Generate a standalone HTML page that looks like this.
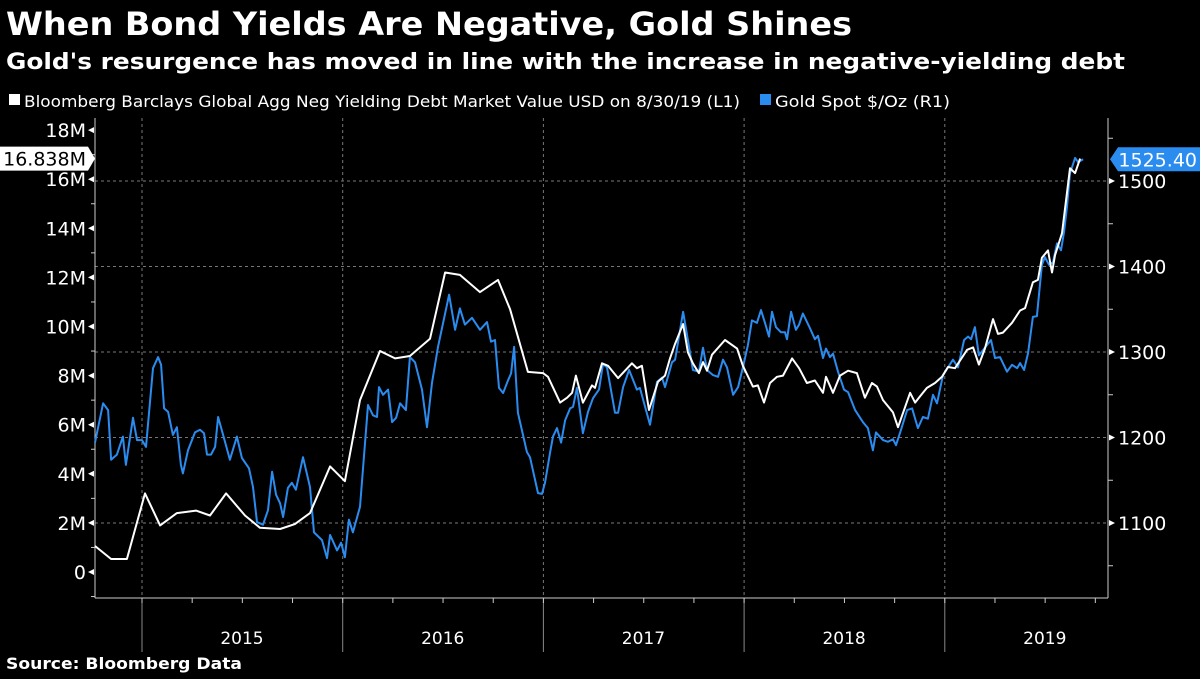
<!DOCTYPE html>
<html><head><meta charset="utf-8"><style>
html,body{margin:0;padding:0;background:#000;}
body{width:1200px;height:675px;overflow:hidden;font-family:"DejaVu Sans","Liberation Sans",sans-serif;color:#fff;}
svg text{font-family:"DejaVu Sans","Liberation Sans",sans-serif;}
</style></head><body>
<svg id="chart" width="1200" height="675" viewBox="0 0 1200 675">
<text x="6" y="35" font-size="32" font-weight="bold" fill="#fff" textLength="846" lengthAdjust="spacingAndGlyphs">When Bond Yields Are Negative, Gold Shines</text>
<text x="6" y="69" font-size="22" font-weight="bold" fill="#fff" textLength="1119" lengthAdjust="spacingAndGlyphs">Gold's resurgence has moved in line with the increase in negative-yielding debt</text>
<g>
<rect x="9" y="94" width="11" height="11" fill="#fff"/>
<text x="24" y="107" font-size="16" fill="#fff" textLength="716" lengthAdjust="spacingAndGlyphs">Bloomberg Barclays Global Agg Neg Yielding Debt Market Value USD  on 8/30/19 (L1)</text>
<rect x="760" y="94" width="11" height="11" fill="#2b8cf0"/>
<text x="775" y="107" font-size="16" fill="#fff" textLength="175" lengthAdjust="spacingAndGlyphs">Gold Spot $/Oz  (R1)</text>
</g>
<g id="grid"></g>
<g id="axes"></g>
<g id="series"></g>
<g id="flags"></g>
<text x="6" y="669" font-size="16" font-weight="bold" fill="#fff" textLength="236" lengthAdjust="spacingAndGlyphs">Source: Bloomberg Data</text>
</svg>
<script>
const years = [2015, 2016, 2017, 2018, 2019];
const leftTicks = [0, 2, 4, 6, 8, 10, 12, 14, 16, 18];
const rightTicks = [1100, 1200, 1300, 1400, 1500];
const debtDates = [2014.766,2014.846,2014.925,2015.015,2015.090,2015.174,2015.269,2015.339,2015.419,2015.513,2015.588,2015.688,2015.762,2015.837,2015.937,2016.011,2016.086,2016.186,2016.261,2016.335,2016.435,2016.510,2016.584,2016.684,2016.774,2016.834,2016.923,2016.998,2017.023,2017.083,2017.118,2017.143,2017.162,2017.197,2017.242,2017.257,2017.292,2017.322,2017.372,2017.441,2017.466,2017.491,2017.526,2017.571,2017.606,2017.631,2017.656,2017.696,2017.720,2017.745,2017.775,2017.795,2017.815,2017.840,2017.905,2017.965,2017.994,2018.044,2018.069,2018.099,2018.129,2018.164,2018.194,2018.239,2018.274,2018.313,2018.353,2018.393,2018.408,2018.443,2018.478,2018.518,2018.562,2018.602,2018.637,2018.662,2018.692,2018.742,2018.767,2018.827,2018.852,2018.876,2018.911,2018.951,2018.986,2019.016,2019.051,2019.111,2019.141,2019.170,2019.200,2019.240,2019.265,2019.290,2019.335,2019.375,2019.400,2019.439,2019.464,2019.484,2019.514,2019.534,2019.549,2019.584,2019.624,2019.649,2019.674];
const debtValues = [1.06,0.53,0.53,3.2,1.9,2.4,2.5,2.3,3.2,2.3,1.8,1.75,1.95,2.4,4.3,3.7,7.0,9.0,8.7,8.8,9.5,12.2,12.1,11.4,11.9,10.7,8.15,8.1,7.95,6.9,7.1,7.3,8.0,6.9,7.6,7.5,8.5,8.4,7.9,8.5,8.3,8.4,6.6,7.75,8.0,8.7,9.3,10.1,8.95,8.5,8.1,8.55,8.2,8.85,9.45,9.1,8.4,7.55,7.6,6.9,7.7,7.95,8.0,8.7,8.3,7.7,7.8,7.3,7.95,7.3,8.0,8.2,8.1,7.1,7.7,7.55,7.0,6.5,5.9,7.3,6.9,7.15,7.5,7.7,7.95,8.35,8.3,9.05,9.15,8.45,9.1,10.3,9.7,9.75,10.15,10.65,10.75,11.8,11.9,12.8,13.1,12.2,12.9,13.8,16.45,16.25,16.838];
const goldDates = [2014.766,2014.806,2014.831,2014.846,2014.875,2014.905,2014.920,2014.955,2014.975,2015.000,2015.020,2015.055,2015.080,2015.095,2015.110,2015.130,2015.154,2015.174,2015.194,2015.204,2015.229,2015.264,2015.289,2015.309,2015.324,2015.344,2015.364,2015.379,2015.404,2015.438,2015.473,2015.498,2015.533,2015.553,2015.573,2015.603,2015.628,2015.648,2015.668,2015.688,2015.703,2015.727,2015.747,2015.767,2015.802,2015.837,2015.857,2015.897,2015.922,2015.937,2015.972,2015.992,2016.011,2016.031,2016.051,2016.086,2016.126,2016.151,2016.171,2016.181,2016.201,2016.226,2016.246,2016.266,2016.286,2016.315,2016.335,2016.360,2016.395,2016.420,2016.445,2016.475,2016.530,2016.560,2016.584,2016.609,2016.644,2016.684,2016.719,2016.739,2016.759,2016.779,2016.799,2016.824,2016.839,2016.854,2016.873,2016.918,2016.933,2016.973,2016.993,2017.008,2017.033,2017.048,2017.068,2017.088,2017.108,2017.133,2017.148,2017.167,2017.197,2017.222,2017.247,2017.277,2017.297,2017.317,2017.357,2017.372,2017.397,2017.427,2017.466,2017.481,2017.531,2017.566,2017.591,2017.606,2017.641,2017.656,2017.696,2017.720,2017.745,2017.775,2017.795,2017.815,2017.845,2017.870,2017.895,2017.915,2017.945,2017.970,2017.994,2018.019,2018.039,2018.064,2018.084,2018.104,2018.124,2018.139,2018.159,2018.184,2018.204,2018.214,2018.234,2018.258,2018.274,2018.293,2018.328,2018.353,2018.368,2018.393,2018.408,2018.428,2018.443,2018.468,2018.498,2018.518,2018.553,2018.592,2018.617,2018.642,2018.657,2018.692,2018.717,2018.742,2018.757,2018.782,2018.812,2018.837,2018.866,2018.891,2018.916,2018.941,2018.961,2018.991,2019.041,2019.066,2019.096,2019.116,2019.131,2019.150,2019.170,2019.200,2019.230,2019.250,2019.275,2019.310,2019.335,2019.360,2019.375,2019.395,2019.415,2019.439,2019.459,2019.484,2019.499,2019.519,2019.539,2019.559,2019.579,2019.594,2019.609,2019.624,2019.649,2019.664,2019.689];
const goldValues = [1194,1240,1232,1174,1180,1201,1168,1223,1197,1197,1189,1281,1294,1285,1234,1230,1203,1212,1168,1158,1185,1206,1209,1205,1180,1180,1189,1224,1203,1174,1201,1176,1164,1142,1101,1098,1115,1160,1133,1123,1107,1141,1147,1139,1177,1142,1089,1080,1059,1086,1068,1077,1060,1104,1089,1119,1238,1226,1224,1259,1250,1256,1218,1223,1240,1232,1294,1288,1256,1212,1264,1306,1367,1326,1351,1332,1340,1326,1335,1312,1314,1258,1252,1267,1275,1306,1229,1183,1177,1135,1134,1147,1182,1201,1211,1194,1220,1234,1236,1258,1205,1230,1246,1256,1286,1282,1229,1229,1259,1279,1256,1258,1215,1265,1270,1259,1288,1291,1347,1314,1279,1277,1305,1279,1273,1271,1291,1282,1250,1259,1282,1308,1337,1334,1349,1334,1318,1347,1329,1323,1323,1315,1347,1326,1332,1345,1328,1315,1319,1293,1304,1294,1298,1277,1256,1253,1232,1218,1211,1185,1206,1197,1195,1198,1191,1209,1232,1234,1211,1224,1222,1250,1240,1273,1291,1282,1314,1318,1315,1329,1296,1305,1314,1293,1294,1277,1285,1281,1287,1279,1299,1341,1342,1402,1411,1402,1405,1427,1419,1440,1470,1509,1527,1522,1525.4];

const NS = 'http://www.w3.org/2000/svg';
const X0 = 95, X1 = 1108, YT = 118, YB = 598;
function xScale(t){ return 142 + (t - 2015) * 200.7; }
function yLeft(v){ return 572 - v * 24.55; }
function yRight(v){ return 523 - (v - 1100) * 0.855; }
function mk(tag, attrs, parent){ const e = document.createElementNS(NS, tag); for (const k in attrs) e.setAttribute(k, attrs[k]); parent.appendChild(e); return e; }

const grid = document.getElementById('grid');
const axes = document.getElementById('axes');
const series = document.getElementById('series');
const flags = document.getElementById('flags');

rightTicks.forEach(v => {
  const l = mk('line', {x1: X0, x2: X1, y1: yRight(v), y2: yRight(v), stroke: '#777', 'stroke-width': 1, 'stroke-dasharray': '3,3'}, grid);
  
  
});
years.forEach(y => {
  const x = xScale(y);
  const l = mk('line', {x1: x, x2: x, y1: YT, y2: YB, stroke: '#777', 'stroke-width': 1, 'stroke-dasharray': '3,3'}, grid);
  
  
  const s = mk('line', {x1: x, x2: x, y1: YB, y2: 652, stroke: '#888', 'stroke-width': 1}, axes);
  
  
  const t = mk('text', {x: x + 100, y: 644, 'font-size': 17, fill: '#fff', 'text-anchor': 'middle'}, axes);
  t.textContent = String(y);
  
  
});
const la = mk('line', {x1: X0, x2: X0, y1: YT, y2: YB, stroke: '#ccc', 'stroke-width': 1}, axes);


const ra = mk('line', {x1: X1, x2: X1, y1: YT, y2: YB, stroke: '#ccc', 'stroke-width': 1}, axes);


const ba = mk('line', {x1: X0, x2: X1, y1: YB, y2: YB, stroke: '#ccc', 'stroke-width': 1}, axes);


for (let t = 2014.75; t < 2019.8; t += 0.25) {
  const x = xScale(t);
  if (x < X0 || x > X1) continue;
  const tk = mk('line', {x1: x, x2: x, y1: YB, y2: YB + 5, stroke: '#ccc', 'stroke-width': 1}, axes);
  
  
}
leftTicks.forEach(v => {
  const y = yLeft(v);
  const p = mk('path', {d: `M${X0-7},${y} L${X0-1},${y-3} L${X0-1},${y+3} Z`, fill: '#fff'}, axes);
  
  
  const t = mk('text', {x: X0 - 9, y: y + 7, 'font-size': 19, fill: '#fff', 'text-anchor': 'end'}, axes);
  t.textContent = v === 0 ? '0' : v + 'M';
  
  
  const m = mk('line', {x1: X0 - 4, x2: X0, y1: yLeft(v + 1), y2: yLeft(v + 1), stroke: '#ccc'}, axes);
  
  
});
const m0 = mk('line', {x1: X0 - 4, x2: X0, y1: yLeft(-1), y2: yLeft(-1), stroke: '#ccc'}, axes);


rightTicks.forEach(v => {
  const y = yRight(v);
  const p = mk('path', {d: `M${X1+7},${y} L${X1+1},${y-3} L${X1+1},${y+3} Z`, fill: '#fff'}, axes);
  
  
  const t = mk('text', {x: X1 + 10, y: y + 7, 'font-size': 19, fill: '#fff'}, axes);
  t.textContent = String(v);
  
  
});
[1050, 1150, 1250, 1350, 1450, 1550].forEach(v => {
  const y = yRight(v);
  if (y < YT) return;
  const m = mk('line', {x1: X1, x2: X1 + 5, y1: y, y2: y, stroke: '#ccc'}, axes);
  
  
});

function pathFrom(dates, vals, yf){ return dates.map((d, i) => (i ? 'L' : 'M') + xScale(d).toFixed(1) + ',' + yf(vals[i]).toFixed(1)).join(' '); }
const gp = mk('path', {d: pathFrom(goldDates, goldValues, yRight), fill: 'none', stroke: '#2b8cf0', 'stroke-width': 2, 'stroke-linejoin': 'round'}, series);


const dp = mk('path', {d: pathFrom(debtDates, debtValues, yLeft), fill: 'none', stroke: '#fff', 'stroke-width': 2, 'stroke-linejoin': 'round'}, series);



const lastDebt = debtValues[debtValues.length - 1];
const ly = yLeft(lastDebt);
const lf = mk('path', {d: `M0,${ly-12} L88,${ly-12} L95,${ly} L88,${ly+12} L0,${ly+12} Z`, fill: '#fff'}, flags);


const lt = mk('text', {x: 86, y: ly + 7, 'font-size': 19, fill: '#000', 'text-anchor': 'end'}, flags);
lt.textContent = lastDebt.toFixed(3) + 'M';


const lastGold = goldValues[goldValues.length - 1];
const ry = yRight(lastGold);
const rf = mk('path', {d: `M${X1+2},${ry} L${X1+10},${ry-12} L1200,${ry-12} L1200,${ry+12} L${X1+10},${ry+12} Z`, fill: '#2b8cf0'}, flags);


const rt = mk('text', {x: 1197, y: ry + 7, 'font-size': 19, fill: '#fff', 'text-anchor': 'end'}, flags);
rt.textContent = lastGold.toFixed(2);


</script>
</body></html>
